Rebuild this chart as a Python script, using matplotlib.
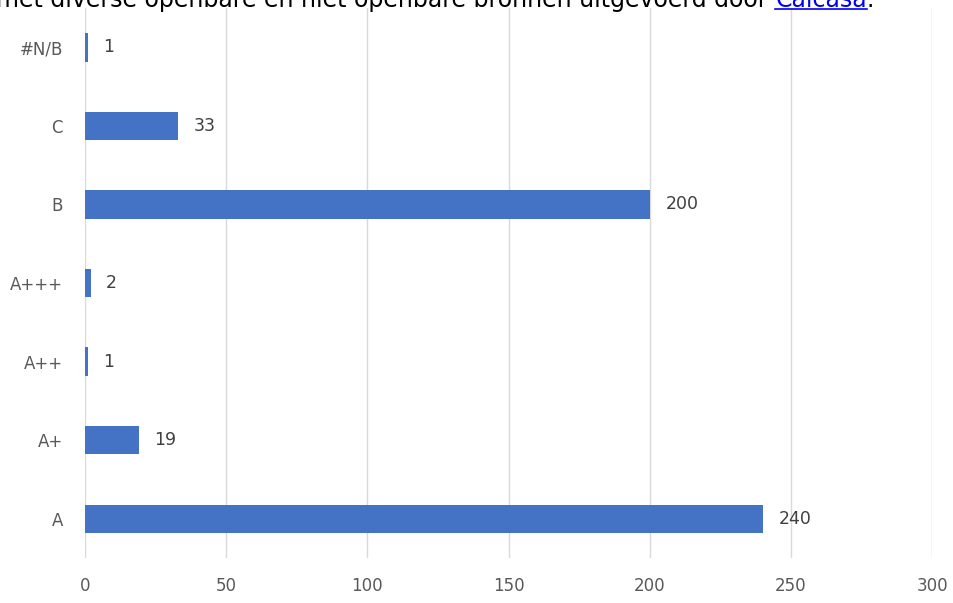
import matplotlib.pyplot as plt

labels = ["A", "A+", "A++", "A+++", "B", "C", "#N/B"]
counts = [240, 19, 1, 2, 200, 33, 1]
xticks = [0, 50, 100, 150, 200, 250, 300]

fig = plt.figure(figsize=(9.54, 6.03), dpi=100)
ax = fig.add_axes([0.0891, 0.0746, 0.888, 0.912])

ypos = range(len(labels))
ax.barh(ypos, counts, height=0.36, color="#4472C4", zorder=3)
for y, v in zip(ypos, counts):
    ax.text(v + 5.5, y, str(v), va="center", ha="left", fontsize=12.5, color="#404040")

ax.set_xlim(0, 300)
ax.set_ylim(-0.5, 6.5)
ax.set_xticks(xticks)
ax.set_yticks(list(ypos))
ax.set_yticklabels(labels)
ax.tick_params(axis="both", length=0, labelsize=12, colors="#595959")
ax.tick_params(axis="x", pad=14)
ax.tick_params(axis="y", pad=16)
ax.grid(axis="x", color="#d9d9d9", linewidth=1, zorder=0)
for s in ax.spines.values():
    s.set_visible(False)

# cut-off line of text at the very top (from the page the chart was taken from)
base = 1.0 - 7 / 603
fs = 17
t1 = fig.text(-0.004, base, "met diverse openbare en niet openbare bronnen uitgevoerd door ",
              fontsize=fs, color="black", va="baseline", ha="left")
fig.canvas.draw()
bb = t1.get_window_extent()
x2 = bb.x1 / fig.bbox.width
t2 = fig.text(x2, base, "Calcasa", fontsize=fs, color="#0000EE", va="baseline", ha="left")
fig.canvas.draw()
x3 = t2.get_window_extent().x1 / fig.bbox.width
fig.text(x3, base, ".", fontsize=fs, color="black", va="baseline", ha="left")
fig.lines.append(plt.Line2D([x2, x3], [1.0 - 9 / 603] * 2, transform=fig.transFigure,
                            color="#0000EE", linewidth=1.2))

fig.savefig("out.png", dpi=100)
